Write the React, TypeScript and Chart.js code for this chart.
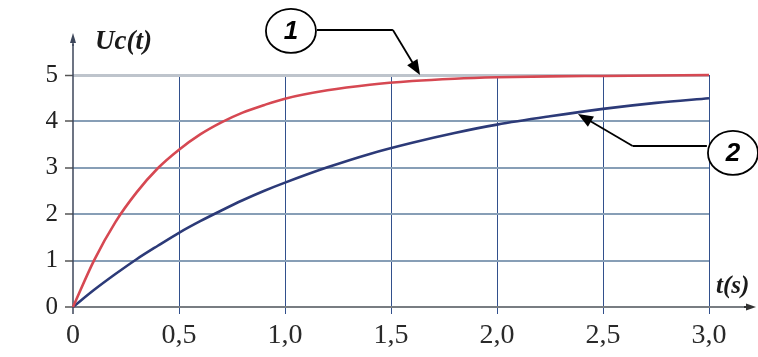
import React, { useEffect, useRef } from "react";
import { Chart, registerables } from "chart.js";

Chart.register(...registerables);

// time (s)
const T = [0, 0.1, 0.2, 0.3, 0.4, 0.5, 0.6, 0.7, 0.8, 0.9, 1.0, 1.2, 1.4, 1.6, 1.8, 2.0, 2.25, 2.5, 2.75, 3.0];
// curve 1 (red)
const U1 = [0, 1.01, 1.83, 2.47, 2.99, 3.39, 3.72, 3.98, 4.19, 4.35, 4.49, 4.67, 4.79, 4.87, 4.92, 4.95, 4.97, 4.98, 4.99, 5.0];
// curve 2 (blue)
const U2 = [0, 0.37, 0.71, 1.03, 1.32, 1.6, 1.85, 2.08, 2.3, 2.5, 2.68, 3.01, 3.3, 3.54, 3.75, 3.93, 4.11, 4.27, 4.4, 4.5];

const X_LABELS = ["0", "0,5", "1,0", "1,5", "2,0", "2,5", "3,0"];
const Y_LABELS = ["0", "1", "2", "3", "4", "5"];
const Y_TITLE = "Uc(t)";
const X_TITLE = "t(s)";

// callouts, in data units
const CALLOUT_1 = { label: "1", cx: 1.028, cy: 5.95, path: [[1.151, 5.97], [1.509, 5.97]], tip: [1.637, 5.0] };
const CALLOUT_2 = { label: "2", cx: 3.113, cy: 3.32, path: [[2.99, 3.47], [2.64, 3.47]], tip: [2.382, 4.16] };

function arrow(ctx: CanvasRenderingContext2D, x1: number, y1: number, x2: number, y2: number, len: number, half: number) {
  const a = Math.atan2(y2 - y1, x2 - x1);
  ctx.beginPath();
  ctx.moveTo(x1, y1);
  ctx.lineTo(x2 - Math.cos(a) * len * 0.8, y2 - Math.sin(a) * len * 0.8);
  ctx.stroke();
  ctx.beginPath();
  ctx.moveTo(x2, y2);
  ctx.lineTo(x2 - Math.cos(a) * len + Math.sin(a) * half, y2 - Math.sin(a) * len - Math.cos(a) * half);
  ctx.lineTo(x2 - Math.cos(a) * len - Math.sin(a) * half, y2 - Math.sin(a) * len + Math.cos(a) * half);
  ctx.closePath();
  ctx.fill();
}

const axesPlugin = {
  id: "axesArrows",
  beforeDatasetsDraw(chart: any) {
    const { ctx } = chart;
    const xs = chart.scales.x;
    const ys = chart.scales.y;
    const x0 = xs.getPixelForValue(0);
    const y0 = ys.getPixelForValue(0);
    ctx.save();
    // x axis
    ctx.strokeStyle = "rgb(120,125,130)";
    ctx.fillStyle = "#333";
    ctx.lineWidth = 2;
    ctx.beginPath();
    ctx.moveTo(x0, y0);
    ctx.lineTo(chart.width - 12, y0);
    ctx.stroke();
    ctx.strokeStyle = "#333";
    arrow(ctx, chart.width - 14, y0, chart.width - 2, y0, 10, 3.5);
    // y axis
    ctx.strokeStyle = "rgb(60,70,90)";
    ctx.fillStyle = "rgb(60,70,90)";
    ctx.lineWidth = 1.5;
    ctx.beginPath();
    ctx.moveTo(x0, y0 + 7);
    ctx.lineTo(x0, 44);
    ctx.stroke();
    arrow(ctx, x0, 46, x0, 33, 10, 3);
    ctx.restore();
  },
  afterDraw(chart: any) {
    const { ctx } = chart;
    const xs = chart.scales.x;
    const ys = chart.scales.y;
    const px = (v: number) => xs.getPixelForValue(v);
    const py = (v: number) => ys.getPixelForValue(v);
    ctx.save();
    ctx.fillStyle = "#1a1a1a";
    ctx.font = 'italic bold 27px "Liberation Serif"';
    ctx.textBaseline = "alphabetic";
    ctx.textAlign = "left";
    ctx.fillText(Y_TITLE, px(0) + 22, 49);
    ctx.font = 'italic bold 25px "Liberation Serif"';
    ctx.fillText(X_TITLE, chart.width - 42, py(0) - 14);

    for (const c of [CALLOUT_1, CALLOUT_2]) {
      const cx = px(c.cx);
      const cy = py(c.cy);
      ctx.strokeStyle = "#000";
      ctx.lineWidth = 1.8;
      ctx.beginPath();
      ctx.ellipse(cx, cy, 25, 22, 0, 0, Math.PI * 2);
      ctx.fillStyle = "#fff";
      ctx.fill();
      ctx.stroke();
      ctx.fillStyle = "#000";
      ctx.font = 'italic bold 26px "Liberation Sans"';
      ctx.textAlign = "center";
      ctx.textBaseline = "middle";
      ctx.fillText(c.label, cx, cy + 1);
      ctx.lineWidth = 1.8;
      ctx.beginPath();
      ctx.moveTo(px(c.path[0][0]), py(c.path[0][1]));
      ctx.lineTo(px(c.path[1][0]), py(c.path[1][1]));
      ctx.stroke();
      arrow(ctx, px(c.path[1][0]), py(c.path[1][1]), px(c.tip[0]), py(c.tip[1]), 15, 6);
    }
    ctx.restore();
  },
};

export default function App() {
  const ref = useRef<HTMLCanvasElement>(null);

  useEffect(() => {
    document.body.style.margin = "0";
    const canvas = ref.current;
    if (!canvas) return;
    const chart = new Chart(canvas, {
      type: "line",
      data: {
        datasets: [
          {
            label: "1",
            data: T.map((t, i) => ({ x: t, y: U1[i] })),
            borderColor: "rgb(214,72,82)",
            borderWidth: 2.6,
            pointRadius: 0,
            cubicInterpolationMode: "monotone",
            clip: false,
          },
          {
            label: "2",
            data: T.map((t, i) => ({ x: t, y: U2[i] })),
            borderColor: "rgb(44,58,120)",
            borderWidth: 2.6,
            pointRadius: 0,
            cubicInterpolationMode: "monotone",
            clip: false,
          },
        ],
      },
      options: {
        animation: false,
        responsive: true,
        maintainAspectRatio: false,
        layout: { padding: { top: 75, right: 49, left: 0, bottom: 0 } },
        plugins: { legend: { display: false }, tooltip: { enabled: false } },
        scales: {
          x: {
            type: "linear",
            min: 0,
            max: 3,
            afterFit: (s: any) => {
              s.height = 50;
            },
            ticks: {
              stepSize: 0.5,
              autoSkip: false,
              maxRotation: 0,
              padding: 5,
              color: "#2a2a2a",
              font: { family: "Liberation Serif", size: 28 },
              callback: (_v: any, i: number) => X_LABELS[i],
            },
            grid: {
              color: (c: any) => (c.tick && c.tick.value === 0 ? "rgba(0,0,0,0)" : "rgb(50,80,140)"),
              lineWidth: 1,
              tickLength: 7,
            },
            border: { display: false },
          },
          y: {
            type: "linear",
            min: 0,
            max: 5,
            afterFit: (s: any) => {
              s.width = 73;
            },
            ticks: {
              stepSize: 1,
              padding: 7,
              color: "#222",
              font: { family: "Liberation Serif", size: 25 },
              callback: (_v: any, i: number) => Y_LABELS[i],
            },
            grid: {
              color: (c: any) => {
                const v = c.tick ? c.tick.value : -1;
                if (v === 5) return "rgb(190,196,204)";
                if (v === 0) return "rgba(0,0,0,0)";
                return "rgb(135,158,182)";
              },
              lineWidth: (c: any) => (c.tick && c.tick.value === 5 ? 3 : 2),
              tickLength: 8,
              tickColor: "#555",
              tickWidth: 1.5,
            },
            border: { display: false },
          },
        },
      },
      plugins: [axesPlugin],
    } as any);
    return () => chart.destroy();
  }, []);

  return (
    <div style={{ position: "fixed", left: 0, top: 0, width: 758, height: 357, background: "#fff" }}>
      <canvas ref={ref} />
    </div>
  );
}
